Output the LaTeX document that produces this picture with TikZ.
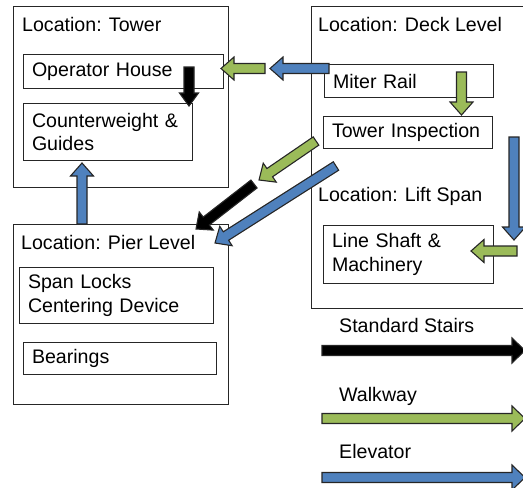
\documentclass[tikz,border=0pt]{standalone}
\usepackage{fontspec}
\setmainfont{Liberation Sans}
\usetikzlibrary{positioning,calc}

\definecolor{walkgreen}{RGB}{155,187,89}
\definecolor{liftblue}{RGB}{79,129,189}

% block arrow from one named point to another, #1 = half head width
\newcommand{\route}[4][11.5]{%
  \draw[route, fill=#2] let \p1=(#3), \p2=(#4),
      \n1={atan2(\y2-\y1,\x2-\x1)}, \n2={veclen(\x2-\x1,\y2-\y1)} in
    [shift={(\p1)}, rotate=\n1]
    (0pt,-5pt) -- ({\n2*1pt-13pt},-5pt) -- ({\n2*1pt-13pt},-#1pt)
    -- ({\n2*1pt},0pt) -- ({\n2*1pt-13pt},#1pt) -- ({\n2*1pt-13pt},5pt)
    -- (0pt,5pt) -- cycle;}

\begin{document}
\begin{tikzpicture}[x=1pt, y=-1pt, font=\fontsize{19.6}{23.5}\selectfont,
  zone/.style={draw=black!85, line width=1pt, anchor=north west, inner sep=0pt},
  part/.style={draw=black!85, line width=1pt, anchor=north west, align=left,
    inner xsep=8.5pt, inner ysep=0pt},
  title/.style={anchor=north west, inner sep=0pt},
  key/.style={anchor=base west, inner sep=0pt},
  route/.style={draw=black!85, line width=1.1pt, line join=miter}]
  \useasboundingbox (0,0) rectangle (523,488);
  \clip (0,0) rectangle (523,488);

  % locations
  \node[zone, minimum width=215pt, minimum height=181pt] (tower) at (13,6) {};
  \node[zone, minimum width=225pt, minimum height=302pt] (deck) at (311,6) {};
  \node[zone, minimum width=215pt, minimum height=180pt] (pier) at (13,224) {};

  \node[title, below right=11pt and 9pt of tower.north west] (t1) {Location: Tower};
  \node[title, below right=11pt and 7pt of deck.north west] (t2) {Location: Deck Level};
  \node[title] (t3) at (318,187) {Location: Lift Span};
  \node[title, below right=11pt and 8pt of pier.north west] (t4) {Location: Pier Level};

  % rooms
  \node[part, text width=183pt, minimum height=34pt] (op) at (23,54) {Operator House};
  \node[part, text width=152pt, minimum height=57pt] (cw) at (23,103) {Counterweight \&\\Guides};
  \node[part, text width=152pt, minimum height=33pt] (mr) at (324,64) {Miter Rail};
  \node[part, text width=152pt, minimum height=32pt] (ti) at (323,116) {Tower Inspection};
  \node[part, text width=153pt, minimum height=58pt] (ls) at (323,225) {Line Shaft \&\\Machinery};
  \node[part, text width=177pt, minimum height=56pt] (sl) at (19,267) {Span Locks\\Centering Device};
  \node[part, text width=176pt, minimum height=32pt] (br) at (23,342) {Bearings};

  % arrow ends
  \coordinate (s1a) at (189,67);    \coordinate (s1b) at (189,106);
  \coordinate (s2a) at (254,184);   \coordinate (s2b) at (196,229);
  \coordinate (w1a) at (265,68.5);  \coordinate (w1b) at (221,68.5);
  \coordinate (w2a) at (461.5,72);  \coordinate (w2b) at (461.5,115);
  \coordinate (w3a) at (517,251);   \coordinate (w3b) at (471,251);
  \coordinate (w4a) at (316,141);   \coordinate (w4b) at (259,180);
  \coordinate (e1a) at (329,68.5);  \coordinate (e1b) at (270,68.5);
  \coordinate (e2a) at (514,137);   \coordinate (e2b) at (514,240);
  \coordinate (e3a) at (336,166);   \coordinate (e3b) at (215,243);
  \coordinate (e4a) at (82,224);    \coordinate (e4b) at (82,163);

  \route[9.5]{black}{s1a}{s1b}
  \route{black}{s2a}{s2b}
  \route{walkgreen}{w1a}{w1b}
  \route{walkgreen}{w2a}{w2b}
  \route{walkgreen}{w3a}{w3b}
  \route{walkgreen}{w4a}{w4b}
  \route{liftblue}{e1a}{e1b}
  \route{liftblue}{e2a}{e2b}
  \route{liftblue}{e3a}{e3b}
  \route{liftblue}{e4a}{e4b}

  % legend
  \node[key] (k1) at (339,332) {Standard Stairs};
  \node[key] (k2) at (339,401) {Walkway};
  \node[key] (k3) at (339,458) {Elevator};
  \coordinate (k1a) at (322,350.5); \coordinate (k1b) at (525,350.5);
  \coordinate (k2a) at (322,418.5); \coordinate (k2b) at (525,418.5);
  \coordinate (k3a) at (322,477.5); \coordinate (k3b) at (525,477.5);
  \route[12.5]{black}{k1a}{k1b}
  \route[12.5]{walkgreen}{k2a}{k2b}
  \route[12.5]{liftblue}{k3a}{k3b}
\end{tikzpicture}
\end{document}
